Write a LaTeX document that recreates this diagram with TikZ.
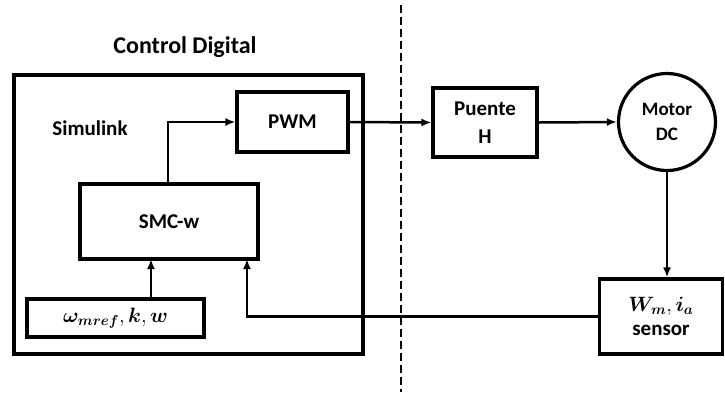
\documentclass[tikz,border=0pt]{standalone}
\usepackage{amsmath}
\usepackage{fontspec}
\setmainfont{Carlito}
\usetikzlibrary{arrows.meta}
\newcommand{\inptext}{$\boldsymbol{\omega_{mref}},\boldsymbol{k},\boldsymbol{w}$}
\newcommand{\senstext}{$\boldsymbol{W_{m}},\boldsymbol{i_{a}}$}
\begin{document}
\begin{tikzpicture}[x=1pt,y=-1pt,
  blk/.style={draw,line width=3.2pt,inner sep=0pt,align=center,font=\bfseries\fontsize{21}{26}\selectfont},
  lbl/.style={font=\bfseries\fontsize{21}{26}\selectfont},
  conn/.style={line width=2.5pt,-{Latex[length=10pt,width=8pt]}}]
\useasboundingbox (0,0) rectangle (725,392);
\node[lbl,font=\bfseries\fontsize{24}{28}\selectfont] (title) at (185,47) {Control Digital};
\node[blk,minimum width=349pt,minimum height=279pt] (outer) at (188.5,214.5) {};
\node[lbl] (simulink) at (90,128) {Simulink};
\node[blk,minimum width=111pt,minimum height=60pt] (pwm) at (292.5,122) {PWM};
\node[blk,minimum width=178pt,minimum height=75pt] (smc) at (169,221.5) {SMC-w};
\node[blk,minimum width=177pt,minimum height=38pt,font=\bfseries\fontsize{22}{26}\selectfont] (inp) at (115.5,318) {\inptext};
\node[blk,minimum width=104pt,minimum height=69pt,font=\bfseries\fontsize{21}{28}\selectfont] (puente) at (485,122.5) {Puente\\H};
\node[blk,circle,minimum size=97pt,font=\bfseries\fontsize{19}{25}\selectfont] (motor) at (667,122) {Motor\\DC};
\node[blk,minimum width=123pt,minimum height=75pt,font=\bfseries\fontsize{21}{24}\selectfont] (sensor) at (661,316.5) {\senstext\\sensor};
\coordinate (d1) at (401,5);
\coordinate (d2) at (401,392);
\draw[line width=2.5pt,dash pattern=on 8pt off 4pt] (d1) -- (d2);
\coordinate (fb) at (247,259);
\coordinate (inarrow) at (151,259);
\coordinate (up) at (168,124);
\draw[conn] (smc.north -| up) |- (pwm.west);
\draw[conn] (pwm.east) -- (puente.west);
\draw[conn] (puente.east) -- (motor.west);
\draw[conn] (motor.south) -- (motor.south |- sensor.north);
\draw[conn] (sensor.west) -| (fb);
\draw[conn] (inarrow |- inp.north) -- (inarrow);
\end{tikzpicture}
\end{document}
